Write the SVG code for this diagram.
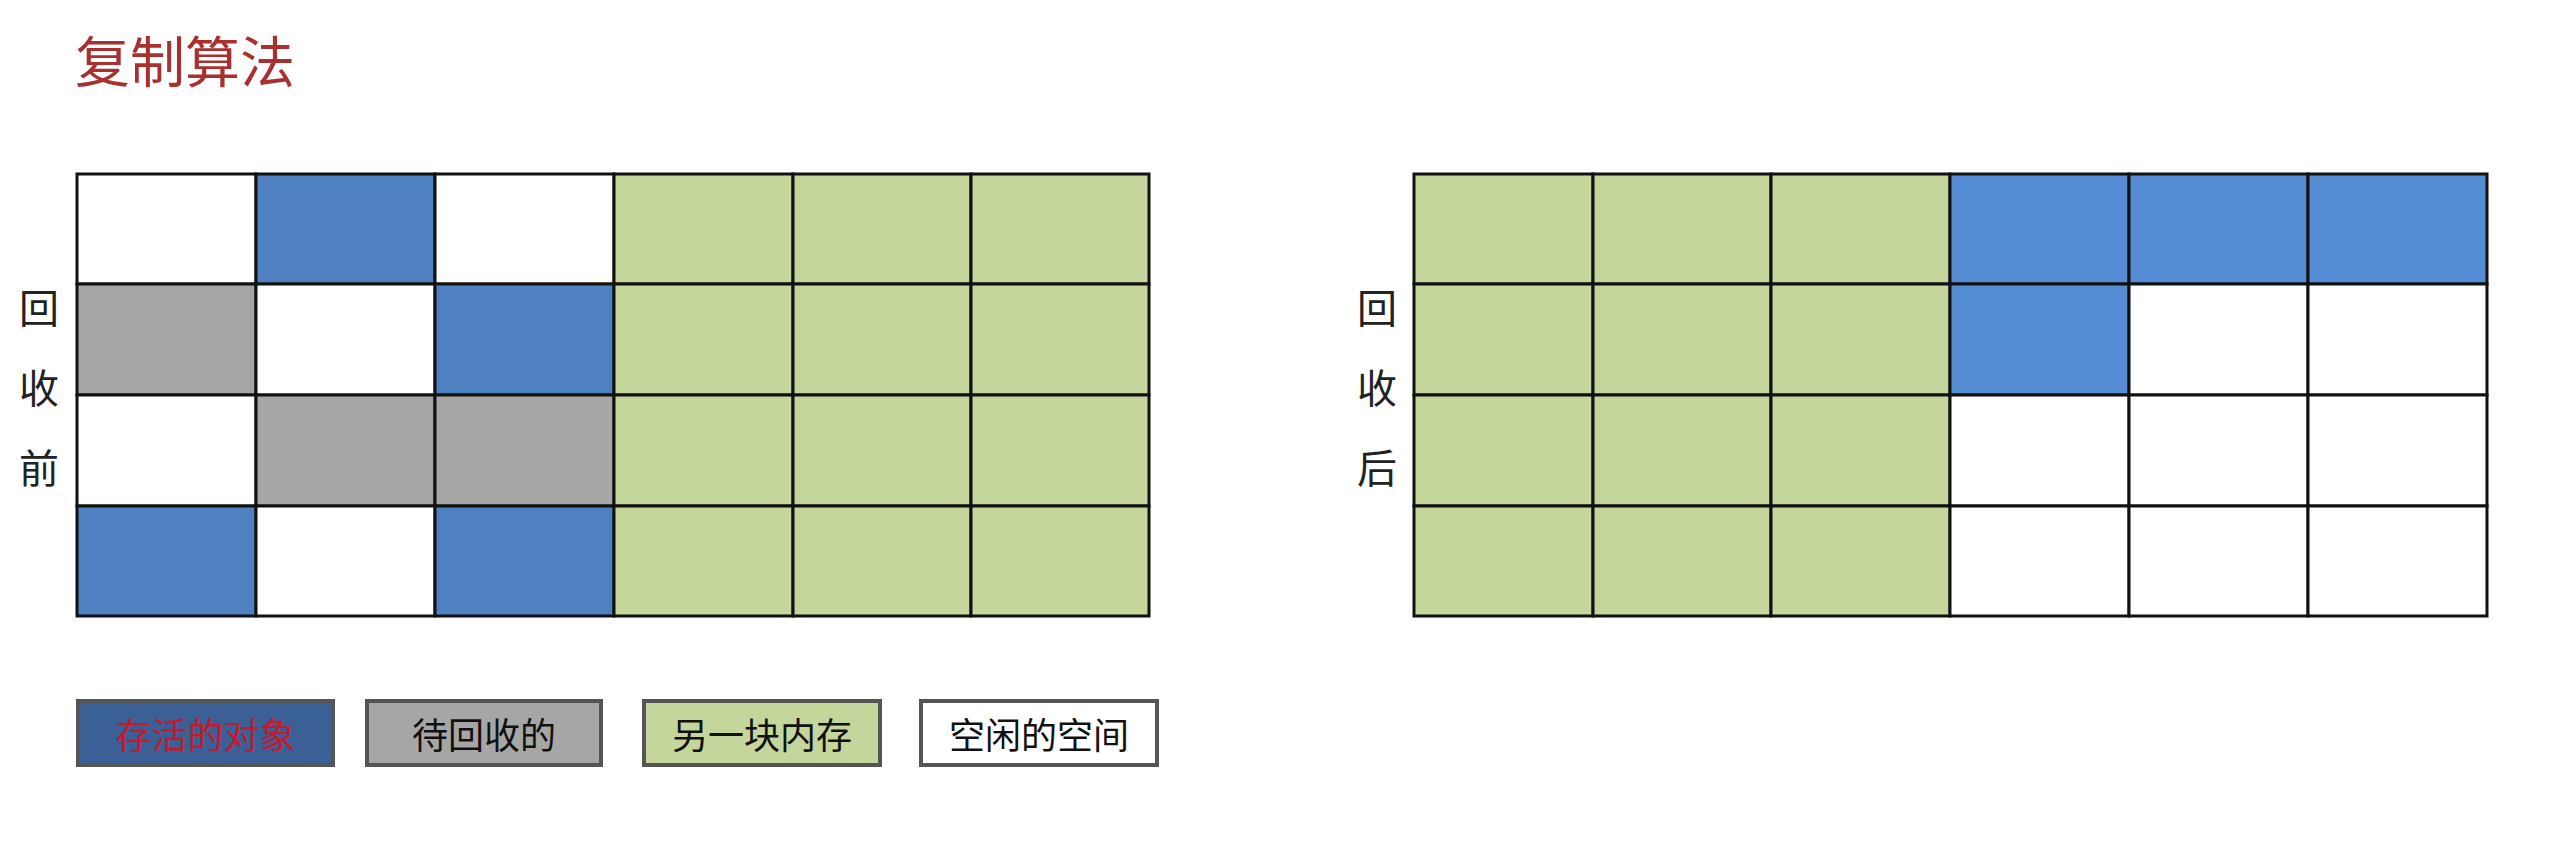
<svg xmlns="http://www.w3.org/2000/svg" width="2574" height="845" viewBox="0 0 2574 845">
<style>
  .t{font-family:"Noto Sans CJK SC","Noto Sans",sans-serif}
  .c{stroke:#111;stroke-width:3}
  .w{fill:#ffffff}
  .b{fill:#4F80BF}
  .b2{fill:#558CD3}
  .g{fill:#A6A6A6}
  .gr{fill:#C4D69C}
  .lab{font-size:40px;fill:#222;text-anchor:middle}
  .leg{stroke:#555;stroke-width:4}
  .lt{font-size:36px;text-anchor:middle;dominant-baseline:central}
</style>
<rect width="2574" height="845" fill="#fff"/>
<g id="title"><text class="t" x="75" y="82" font-size="55" fill="#A8302E">复制算法</text></g>

<g id="label-before">
  <text class="t lab" x="39" y="323">回</text>
  <text class="t lab" x="39" y="403">收</text>
  <text class="t lab" x="39" y="483">前</text>
</g>
<g id="label-after">
  <text class="t lab" x="1377" y="323">回</text>
  <text class="t lab" x="1377" y="403">收</text>
  <text class="t lab" x="1377" y="483">后</text>
</g>

<g id="grid-before">
  <rect class="c w" x="77" y="174" width="179" height="110"/>
  <rect class="c b" x="256" y="174" width="179" height="110"/>
  <rect class="c w" x="435" y="174" width="179" height="110"/>
  <rect class="c gr" x="614" y="174" width="179" height="110"/>
  <rect class="c gr" x="793" y="174" width="178" height="110"/>
  <rect class="c gr" x="971" y="174" width="178" height="110"/>

  <rect class="c g" x="77" y="284" width="179" height="111"/>
  <rect class="c w" x="256" y="284" width="179" height="111"/>
  <rect class="c b" x="435" y="284" width="179" height="111"/>
  <rect class="c gr" x="614" y="284" width="179" height="111"/>
  <rect class="c gr" x="793" y="284" width="178" height="111"/>
  <rect class="c gr" x="971" y="284" width="178" height="111"/>

  <rect class="c w" x="77" y="395" width="179" height="111"/>
  <rect class="c g" x="256" y="395" width="179" height="111"/>
  <rect class="c g" x="435" y="395" width="179" height="111"/>
  <rect class="c gr" x="614" y="395" width="179" height="111"/>
  <rect class="c gr" x="793" y="395" width="178" height="111"/>
  <rect class="c gr" x="971" y="395" width="178" height="111"/>

  <rect class="c b" x="77" y="506" width="179" height="110"/>
  <rect class="c w" x="256" y="506" width="179" height="110"/>
  <rect class="c b" x="435" y="506" width="179" height="110"/>
  <rect class="c gr" x="614" y="506" width="179" height="110"/>
  <rect class="c gr" x="793" y="506" width="178" height="110"/>
  <rect class="c gr" x="971" y="506" width="178" height="110"/>
</g>

<g id="grid-after">
  <rect class="c gr" x="1414" y="174" width="179" height="110"/>
  <rect class="c gr" x="1593" y="174" width="178" height="110"/>
  <rect class="c gr" x="1771" y="174" width="179" height="110"/>
  <rect class="c b2" x="1950" y="174" width="179" height="110"/>
  <rect class="c b2" x="2129" y="174" width="179" height="110"/>
  <rect class="c b2" x="2308" y="174" width="179" height="110"/>

  <rect class="c gr" x="1414" y="284" width="179" height="111"/>
  <rect class="c gr" x="1593" y="284" width="178" height="111"/>
  <rect class="c gr" x="1771" y="284" width="179" height="111"/>
  <rect class="c b2" x="1950" y="284" width="179" height="111"/>
  <rect class="c w" x="2129" y="284" width="179" height="111"/>
  <rect class="c w" x="2308" y="284" width="179" height="111"/>

  <rect class="c gr" x="1414" y="395" width="179" height="111"/>
  <rect class="c gr" x="1593" y="395" width="178" height="111"/>
  <rect class="c gr" x="1771" y="395" width="179" height="111"/>
  <rect class="c w" x="1950" y="395" width="179" height="111"/>
  <rect class="c w" x="2129" y="395" width="179" height="111"/>
  <rect class="c w" x="2308" y="395" width="179" height="111"/>

  <rect class="c gr" x="1414" y="506" width="179" height="110"/>
  <rect class="c gr" x="1593" y="506" width="178" height="110"/>
  <rect class="c gr" x="1771" y="506" width="179" height="110"/>
  <rect class="c w" x="1950" y="506" width="179" height="110"/>
  <rect class="c w" x="2129" y="506" width="179" height="110"/>
  <rect class="c w" x="2308" y="506" width="179" height="110"/>
</g>

<g id="legend-live">
  <rect class="leg" x="78" y="701" width="255" height="64" fill="#3A6096"/>
  <text class="t lt" x="205.5" y="733" fill="#C8182C">存活的对象</text>
</g>
<g id="legend-garbage">
  <rect class="leg" x="367" y="701" width="234" height="64" fill="#A6A6A6"/>
  <text class="t lt" x="484" y="733" fill="#111">待回收的</text>
</g>
<g id="legend-other">
  <rect class="leg" x="644" y="701" width="236" height="64" fill="#C4D69C"/>
  <text class="t lt" x="762" y="733" fill="#111">另一块内存</text>
</g>
<g id="legend-free">
  <rect class="leg" x="921" y="701" width="236" height="64" fill="#ffffff"/>
  <text class="t lt" x="1039" y="733" fill="#111">空闲的空间</text>
</g>
</svg>
